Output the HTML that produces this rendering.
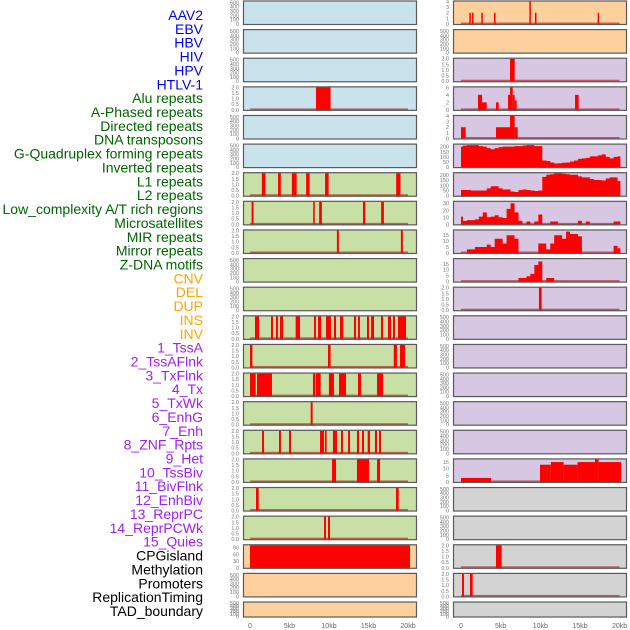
<!DOCTYPE html>
<html><head><meta charset="utf-8"><style>
html,body{margin:0;padding:0;background:#fff;width:630px;height:630px;overflow:hidden}
svg{display:block}
</style></head><body>
<svg id="chart" width="630" height="630" xmlns="http://www.w3.org/2000/svg"></svg>
<script>
// ---- labels ----
const trackLabels = ["AAV2","EBV","HBV","HIV","HPV","HTLV-1","Alu repeats","A-Phased repeats","Directed repeats","DNA transposons","G-Quadruplex forming repeats","Inverted repeats","L1 repeats","L2 repeats","Low_complexity A/T rich regions","Microsatellites","MIR repeats","Mirror repeats","Z-DNA motifs","CNV","DEL","DUP","INS","INV","1_TssA","2_TssAFlnk","3_TxFlnk","4_Tx","5_TxWk","6_EnhG","7_Enh","8_ZNF_Rpts","9_Het","10_TssBiv","11_BivFlnk","12_EnhBiv","13_ReprPC","14_ReprPCWk","15_Quies","CPGisland","Methylation","Promoters","ReplicationTiming","TAD_boundary"];
const labelGroups = [6,13,5,15,5];
const xTickValues = [0,5,10,15,20];
const xTickLabels = ["0","5kb","10kb","15kb","20kb"];
const ticks500 = [0,100,200,300,400,500];
const ticks2 = [0,0.5,1.0,1.5,2.0];
// ---- left column bar data: [startKb, endKb, value] ----
const L3 = [[8.35,10.2,2]];
const L6 = [[1.5,1.95,2],[3.55,3.9,2],[5.3,5.9,2],[7.1,7.55,2],[9.5,9.95,2],[18.5,19.05,2]];
const L7 = [[0.2,0.45,2],[8.0,8.2,2],[8.75,9.1,2],[14.3,14.6,2],[16.6,16.95,2]];
const L8 = [[11.0,11.25,2],[19.1,19.35,2]];
const L11 = [[0.63,1.14,2],[2.66,2.91,2],[3.29,3.54,2],[3.8,4.18,2],[5.78,6.33,2],[8.1,8.35,2],[8.61,8.99,2],[9.62,10.25,2],[10.63,10.89,2],[11.39,11.81,2],[13.16,13.42,2],[13.67,13.92,2],[14.81,15.06,2],[15.32,15.7,2],[16.58,16.84,2],[17.47,17.85,2],[18.1,18.35,2],[18.73,19.75,2]];
const L12 = [[0.0,0.3,2],[9.87,10.2,2],[18.2,18.6,2],[18.99,19.62,2]];
const L13 = [[0,0.72,2],[0.89,2.78,2],[7.97,8.27,2],[8.35,8.94,2],[9.99,10.63,2],[11.27,12.15,2],[13.67,14.05,2],[16.08,16.84,2]];
const L14 = [[7.68,7.93,2]];
const L15 = [[1.52,1.77,2],[3.67,3.92,2],[4.94,5.19,2],[8.86,9.37,2],[9.49,9.7,2],[10.5,11.01,2],[11.52,11.77,2],[12.41,12.66,2],[13.54,13.8,2],[14.18,14.43,2],[14.9,15.19,2],[15.82,16.08,2],[16.33,16.58,2]];
const L16 = [[10.38,10.89,2],[13.54,15.06,2],[16.08,16.46,2]];
const L17 = [[0.76,1.1,2],[18.48,18.82,2]];
const L18 = [[9.37,9.62,2],[9.87,10.13,2]];
const L19 = [[0,20.25,100]];
// ---- right column data ----
const R0 = [[1.05,1.22,2],[1.39,1.55,2],[2.56,2.73,2],[4.16,4.33,2],[8.62,8.79,4],[9.33,9.5,2],[17.23,17.4,2]];
const R2 = [[6.18,6.77,2]];
const R3 = [[2.14,2.65,4],[2.65,3.24,2],[4.41,4.75,2],[5.93,6.18,4],[6.18,6.52,6],[6.52,6.77,4],[6.77,7.02,2.5],[14.38,14.84,4]];
const R4 = [[0,0.59,2],[4.41,6.18,2],[6.18,6.77,4],[6.77,7.15,2]];
const areaKb = [0,0.5,1,1.5,2,2.5,3,3.5,4,4.5,5,5.5,6,6.5,7,7.5,8,8.5,9,9.5,10,10.5,11,11.5,12,12.5,13,13.5,14,14.5,15,15.5,16,16.5,17,17.5,18,18.5,19,19.5,20];
const R5 = [200,210,215,215,215,205,200,185,175,185,195,200,200,200,205,205,210,215,215,205,205,65,60,45,35,38,42,45,55,65,80,85,90,105,105,115,125,100,85,100,105];
const R6 = [55,55,55,50,50,50,50,70,90,90,70,60,60,40,35,55,60,55,50,45,50,180,200,205,215,215,210,205,200,200,185,175,175,160,150,150,145,165,175,175,140];
const R7 = [11,5,6,6,7,11,17,10,11,13,10,9,22,30,17,5,0,4,0,4,14,0,0,4,4,0,0,0,0,0,5,0,4,0,0,0,0,0,0,4,4];
const R8 = [0,0,3,3,5,5,5,7,5,12,12,8,15,15,12,0,0,0,0,0,8,8,3,8,15,15,12,18,16,16,14,0,0,0,0,0,0,0,0,6,4];
const R9 = [0,0,0,0,0,0,0,0,0,0,0,0,0,0,0,3,3,4.5,6.5,14,17,0,3,3,0,0,0,0,0,0,0,0,0,0,0,0,0,0,0,0,0];
const R10 = [[9.83,10.17,2]];
const R16 = [[0,3.78,3],[9.96,11.34,13],[11.34,12.94,15],[12.94,14.7,13],[14.7,16.9,15],[16.9,17.35,17],[17.35,20.2,15]];
const R19 = [[4.41,5.13,2]];
const R20 = [[0.13,0.38,2],[1.13,1.47,2]];

const BLUE="#c9e3ec",GREEN="#c8e0a5",ORANGE="#fed09e",PURPLE="#d7c7e3",GRAY="#d3d3d3";
const panels = [
 // col, row, bg, ymax, ticks, bars, area
 [0,0,BLUE,520,ticks500,null,null],[0,1,BLUE,520,ticks500,null,null],[0,2,BLUE,520,ticks500,null,null],
 [0,3,BLUE,2,ticks2,L3,null],[0,4,BLUE,520,ticks500,null,null],[0,5,BLUE,520,ticks500,null,null],
 [0,6,GREEN,2,ticks2,L6,null],[0,7,GREEN,2,ticks2,L7,null],[0,8,GREEN,2,ticks2,L8,null],
 [0,9,GREEN,520,ticks500,null,null],[0,10,GREEN,520,ticks500,null,null],[0,11,GREEN,2,ticks2,L11,null],
 [0,12,GREEN,2,ticks2,L12,null],[0,13,GREEN,2,ticks2,L13,null],[0,14,GREEN,2,ticks2,L14,null],
 [0,15,GREEN,2,ticks2,L15,null],[0,16,GREEN,2,ticks2,L16,null],[0,17,GREEN,2,ticks2,L17,null],
 [0,18,GREEN,2,ticks2,L18,null],[0,19,ORANGE,100,[0,30,60,90],L19,null],[0,20,ORANGE,520,ticks500,null,null],
 [0,21,ORANGE,520,ticks500,null,null],
 [1,0,ORANGE,4,[0,1,2,3,4],R0,null],[1,1,ORANGE,520,ticks500,null,null],[1,2,PURPLE,2,ticks2,R2,null],
 [1,3,PURPLE,6,[0,2,4,6],R3,null],[1,4,PURPLE,4,[0,1,2,3,4],R4,null],[1,5,PURPLE,220,[0,50,100,150,200],null,R5],
 [1,6,PURPLE,215,[0,50,100,150,200],null,R6],[1,7,PURPLE,32,[0,10,20,30],null,R7],[1,8,PURPLE,19,[0,5,10,15],null,R8],
 [1,9,PURPLE,19,[0,5,10,15],null,R9],[1,10,PURPLE,2,ticks2,R10,null],[1,11,PURPLE,520,ticks500,null,null],
 [1,12,PURPLE,520,ticks500,null,null],[1,13,PURPLE,520,ticks500,null,null],[1,14,PURPLE,520,ticks500,null,null],
 [1,15,PURPLE,520,ticks500,null,null],[1,16,PURPLE,17,[0,5,10,15],R16,null],[1,17,GRAY,520,ticks500,null,null],
 [1,18,GRAY,520,ticks500,null,null],[1,19,GRAY,2,ticks2,R19,null],[1,20,GRAY,2,ticks2,R20,null],[1,21,GRAY,520,ticks500,null,null]
];

const NS="http://www.w3.org/2000/svg";
const svg=document.getElementById('chart');
function mk(tag,attrs,parent){const e=document.createElementNS(NS,tag);for(const k in attrs)e.setAttribute(k,attrs[k]);(parent||svg).appendChild(e);return e;}
const colLeft=[243,453], colW=174;
function xScale(col,kb){return col===0?250+kb*7.9:461+kb*7.93;}
function rowTop(r){return 0.5+r*28.62;}
function rowH(r){return r===21?16:24.5;}

// labels
const labelColors=["#0000ff","#006400","#ffa500","#a020f0","#000000"];
let li=0;
labelGroups.forEach((n,g)=>{for(let k=0;k<n;k++){const t=mk('text',{x:203,y:20+li*13.86,'text-anchor':'end','font-family':'Liberation Sans, sans-serif','font-size':'14',fill:labelColors[g]});


t.textContent=trackLabels[li];li++;}});

panels.forEach((p,i)=>{
 const [col,row,bg,ymax,ticks,bars,area]=p;
 const x0=colLeft[col], top=rowTop(row), h=rowH(row);
 const g=mk('g',{});
 
 
 const yS=v=>top+h-1-(v/ymax)*(h-2);
 const cid='c'+i;
 const cp=mk('clipPath',{id:cid},g);mk('rect',{x:x0,y:top,width:colW,height:h},cp);
 mk('rect',{x:x0,y:top,width:colW,height:h,fill:bg},g);
 const inner=mk('g',{'clip-path':'url(#'+cid+')'},g);
 if(bars||area){
  const bl=mk('rect',{x:xScale(col,0),y:top+h-2.5,width:xScale(col,20)-xScale(col,0),height:2,fill:'rgba(170,0,0,0.55)'},inner);
 }
 if(bars){bars.forEach(b=>{
  const r=mk('rect',{x:xScale(col,b[0]),y:yS(b[2]),width:Math.max(1.5,xScale(col,b[1])-xScale(col,b[0])),height:yS(0)-yS(b[2])+1,fill:'#ff0000'},inner);
  
  
 });}
 if(area){
  let d='M'+xScale(col,areaKb[0])+','+yS(0);
  area.forEach((v,k)=>{const xa=xScale(col,areaKb[k]-0.25<0?0:areaKb[k]-0.25), xb=xScale(col,Math.min(20.1,areaKb[k]+0.25));d+=' L'+xa+','+yS(v)+' L'+xb+','+yS(v);});
  d+=' L'+xScale(col,20.1)+','+(yS(0)+1)+' L'+xScale(col,0)+','+(yS(0)+1)+'Z';
  const a=mk('path',{d:d,fill:'#ff0000'},inner);
  
  
 }
 mk('rect',{x:x0+0.5,y:top+0.5,width:colW-1,height:h-1,fill:'none',stroke:'#5a5a5a','stroke-width':1.2},g);
 ticks.forEach(t=>{const tt=mk('text',{x:x0-4,y:yS(t)+2,'text-anchor':'end','font-family':'Liberation Sans, sans-serif','font-size':'5.5',fill:'#777'},g);
  
  
  tt.textContent=(ymax<=2.5? t.toFixed(1): String(t));});
});
[0,1].forEach(col=>{xTickValues.forEach((v,k)=>{const t=mk('text',{x:xScale(col,v),y:628,'text-anchor':'middle','font-family':'Liberation Sans, sans-serif','font-size':'7',fill:'#666'});
 
 
 t.textContent=xTickLabels[k];});});
</script>
</body></html>
